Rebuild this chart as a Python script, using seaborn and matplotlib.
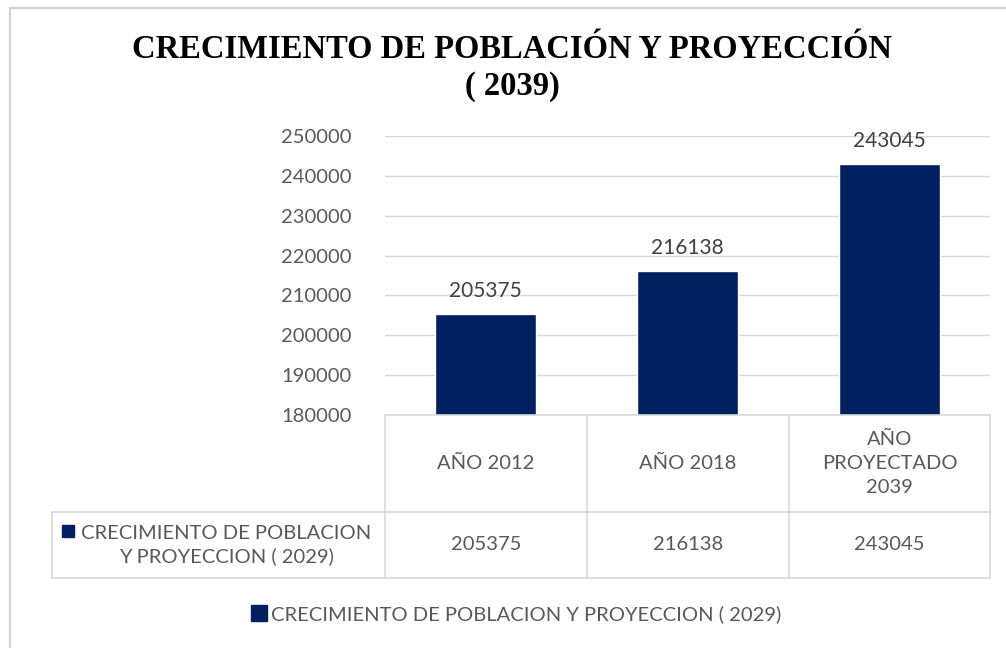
import seaborn as sb
import pandas as pd
import matplotlib.pyplot as plt
from matplotlib.lines import Line2D
from matplotlib.patches import Rectangle

categorias = ["AÑO 2012", "AÑO 2018", "AÑO\nPROYECTADO\n2039"]
poblacion = [205375, 216138, 243045]
serie = "CRECIMIENTO DE POBLACION Y PROYECCION ( 2029)"
serie_tabla = "CRECIMIENTO DE POBLACION\nY PROYECCION ( 2029)"
titulo = "CRECIMIENTO DE POBLACIÓN Y PROYECCIÓN\n( 2039)"
yticks = [180000, 190000, 200000, 210000, 220000, 230000, 240000, 250000]

sb.set_style('white')
plt.rcParams['font.family'] = ['Lato', 'DejaVu Sans']

azul = "#002060"
gris_txt = "#595959"
gris_lin = "#D9D9D9"

W, H = 1006, 648
fig = plt.figure(figsize=(W / 100, H / 100), dpi=100)
# px -> figure fraction helpers
fx = lambda x: x / W
fy = lambda y: 1 - y / H

ax = fig.add_axes([fx(385), fy(415), fx(990) - fx(385), fy(136) - fy(415)])

df = pd.DataFrame({"cat": categorias, "val": poblacion})
sb.barplot(data=df, x="cat", y="val", color=azul, saturation=1, width=0.5, ax=ax)

ax.set_ylim(180000, 250000)
ax.set_yticks(yticks)
ax.set_yticklabels([str(t) for t in yticks], fontsize=14.5, color=gris_txt)
ax.tick_params(axis='y', length=0, pad=24)
ax.set_xticks([])
ax.set_xlabel("")
ax.set_ylabel("")
ax.yaxis.grid(True, color=gris_lin, lw=1)
ax.set_axisbelow(True)
for s in ax.spines.values():
    s.set_visible(False)

for i, v in enumerate(poblacion):
    ax.text(i, v + 3300, str(v), ha="center", va="bottom", fontsize=15, color="#404040")

# data table below axes, drawn in pixel coords of the figure
def hline(y, x0, x1):
    fig.add_artist(Line2D([fx(x0), fx(x1)], [fy(y), fy(y)], color=gris_lin, lw=1.2))

def vline(x, y0, y1):
    fig.add_artist(Line2D([fx(x), fx(x)], [fy(y0), fy(y1)], color=gris_lin, lw=1.2))

cols = [385, 587, 789, 990]
hline(415, 385, 990)
hline(512, 52, 990)
hline(578, 52, 990)
for x in cols:
    vline(x, 415, 578)
vline(52, 512, 578)

for i, c in enumerate(categorias):
    xc = (cols[i] + cols[i + 1]) / 2
    fig.text(fx(xc), fy(463), c, ha="center", va="center", fontsize=14.5,
             color=gris_txt, linespacing=1.5)
    fig.text(fx(xc), fy(545), str(poblacion[i]), ha="center", va="center",
             fontsize=14.5, color=gris_txt)

fig.add_artist(Rectangle((fx(62), fy(537)), fx(12), fy(0) - fy(12), color=azul))
fig.text(fx(226), fy(545), serie_tabla, ha="center", va="center", fontsize=14.5,
         color=gris_txt, linespacing=1.3)

# title
fig.text(fx(512), fy(68), titulo, ha="center", va="center", fontsize=23.5,
         fontweight="bold", family="Liberation Serif", color="black",
         linespacing=1.2)

# legend
fig.legend(handles=[Line2D([], [], marker='s', ls='', color=azul, markersize=11, label=serie)],
           loc="center", bbox_to_anchor=(fx(515), fy(614)), frameon=False,
           fontsize=14.5, labelcolor=gris_txt, handletextpad=0.1, handlelength=1)

# outer frame
fig.add_artist(Rectangle((fx(10), fy(660)), fx(1010) - fx(10), fy(8) - fy(660),
                         fill=False, edgecolor="#D0D0D0", lw=1.5))

plt.savefig("out.png", dpi=100)
